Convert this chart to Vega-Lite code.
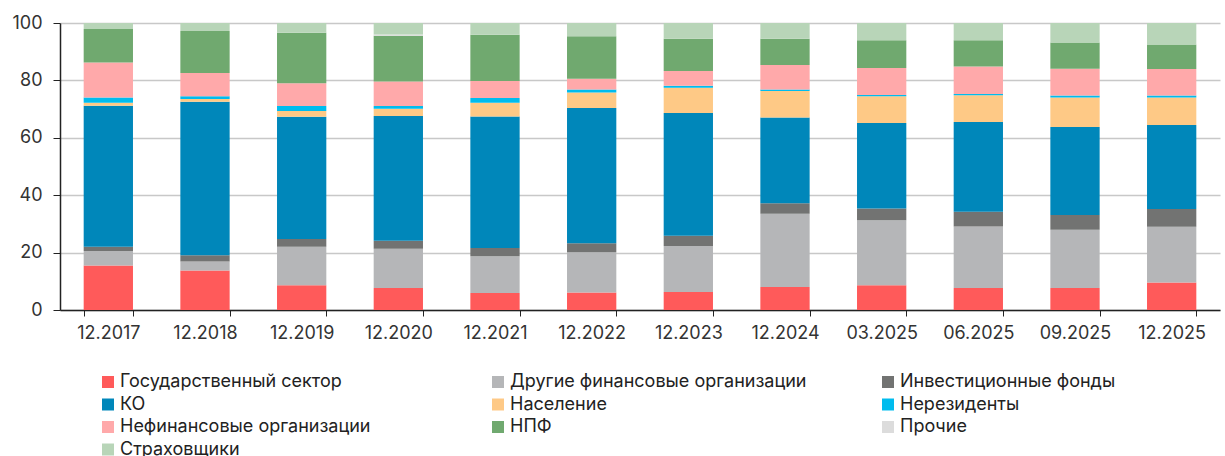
{
  "$schema": "https://vega.github.io/schema/vega-lite/v6.json",
  "width": 1160,
  "height": 287,
  "autosize": "none",
  "padding": {"left": 60, "top": 23, "right": 5, "bottom": 146},
  "background": "white",
  "config": {
    "font": "Inter",
    "view": {"stroke": null}
  },
  "datasets": {
    "src": [
      {"d":"12.2017","g":"Государственный сектор","v":15.5},{"d":"12.2017","g":"Другие финансовые организации","v":5.1},{"d":"12.2017","g":"Инвестиционные фонды","v":1.4},{"d":"12.2017","g":"КО","v":49.2},{"d":"12.2017","g":"Население","v":1.0},{"d":"12.2017","g":"Нерезиденты","v":1.8},{"d":"12.2017","g":"Нефинансовые организации","v":12.2},{"d":"12.2017","g":"НПФ","v":11.7},{"d":"12.2017","g":"Прочие","v":0.0},{"d":"12.2017","g":"Страховщики","v":2.1},
      {"d":"12.2018","g":"Государственный сектор","v":13.8},{"d":"12.2018","g":"Другие финансовые организации","v":3.1},{"d":"12.2018","g":"Инвестиционные фонды","v":2.2},{"d":"12.2018","g":"КО","v":53.5},{"d":"12.2018","g":"Население","v":0.9},{"d":"12.2018","g":"Нерезиденты","v":1.0},{"d":"12.2018","g":"Нефинансовые организации","v":8.1},{"d":"12.2018","g":"НПФ","v":14.6},{"d":"12.2018","g":"Прочие","v":0.0},{"d":"12.2018","g":"Страховщики","v":2.8},
      {"d":"12.2019","g":"Государственный сектор","v":8.6},{"d":"12.2019","g":"Другие финансовые организации","v":13.4},{"d":"12.2019","g":"Инвестиционные фонды","v":2.7},{"d":"12.2019","g":"КО","v":42.6},{"d":"12.2019","g":"Население","v":2.0},{"d":"12.2019","g":"Нерезиденты","v":1.8},{"d":"12.2019","g":"Нефинансовые организации","v":7.9},{"d":"12.2019","g":"НПФ","v":17.6},{"d":"12.2019","g":"Прочие","v":0.0},{"d":"12.2019","g":"Страховщики","v":3.4},
      {"d":"12.2020","g":"Государственный сектор","v":7.7},{"d":"12.2020","g":"Другие финансовые организации","v":13.6},{"d":"12.2020","g":"Инвестиционные фонды","v":2.8},{"d":"12.2020","g":"КО","v":43.5},{"d":"12.2020","g":"Население","v":2.5},{"d":"12.2020","g":"Нерезиденты","v":1.0},{"d":"12.2020","g":"Нефинансовые организации","v":8.5},{"d":"12.2020","g":"НПФ","v":16.0},{"d":"12.2020","g":"Прочие","v":0.4},{"d":"12.2020","g":"Страховщики","v":4.0},
      {"d":"12.2021","g":"Государственный сектор","v":5.9},{"d":"12.2021","g":"Другие финансовые организации","v":12.8},{"d":"12.2021","g":"Инвестиционные фонды","v":2.9},{"d":"12.2021","g":"КО","v":45.8},{"d":"12.2021","g":"Население","v":4.8},{"d":"12.2021","g":"Нерезиденты","v":1.7},{"d":"12.2021","g":"Нефинансовые организации","v":5.9},{"d":"12.2021","g":"НПФ","v":16.1},{"d":"12.2021","g":"Прочие","v":0.0},{"d":"12.2021","g":"Страховщики","v":4.1},
      {"d":"12.2022","g":"Государственный сектор","v":6.1},{"d":"12.2022","g":"Другие финансовые организации","v":14.0},{"d":"12.2022","g":"Инвестиционные фонды","v":3.2},{"d":"12.2022","g":"КО","v":47.1},{"d":"12.2022","g":"Население","v":5.4},{"d":"12.2022","g":"Нерезиденты","v":1.0},{"d":"12.2022","g":"Нефинансовые организации","v":3.8},{"d":"12.2022","g":"НПФ","v":14.8},{"d":"12.2022","g":"Прочие","v":0.0},{"d":"12.2022","g":"Страховщики","v":4.6},
      {"d":"12.2023","g":"Государственный сектор","v":6.3},{"d":"12.2023","g":"Другие финансовые организации","v":16.0},{"d":"12.2023","g":"Инвестиционные фонды","v":3.6},{"d":"12.2023","g":"КО","v":42.7},{"d":"12.2023","g":"Население","v":8.8},{"d":"12.2023","g":"Нерезиденты","v":0.7},{"d":"12.2023","g":"Нефинансовые организации","v":5.2},{"d":"12.2023","g":"НПФ","v":11.2},{"d":"12.2023","g":"Прочие","v":0.0},{"d":"12.2023","g":"Страховщики","v":5.5},
      {"d":"12.2024","g":"Государственный сектор","v":8.0},{"d":"12.2024","g":"Другие финансовые организации","v":25.5},{"d":"12.2024","g":"Инвестиционные фонды","v":3.7},{"d":"12.2024","g":"КО","v":29.9},{"d":"12.2024","g":"Население","v":9.2},{"d":"12.2024","g":"Нерезиденты","v":0.5},{"d":"12.2024","g":"Нефинансовые организации","v":8.6},{"d":"12.2024","g":"НПФ","v":9.1},{"d":"12.2024","g":"Прочие","v":0.0},{"d":"12.2024","g":"Страховщики","v":5.5},
      {"d":"03.2025","g":"Государственный сектор","v":8.6},{"d":"03.2025","g":"Другие финансовые организации","v":22.7},{"d":"03.2025","g":"Инвестиционные фонды","v":4.1},{"d":"03.2025","g":"КО","v":29.8},{"d":"03.2025","g":"Население","v":9.3},{"d":"03.2025","g":"Нерезиденты","v":0.4},{"d":"03.2025","g":"Нефинансовые организации","v":9.4},{"d":"03.2025","g":"НПФ","v":9.7},{"d":"03.2025","g":"Прочие","v":0.0},{"d":"03.2025","g":"Страховщики","v":6.0},
      {"d":"06.2025","g":"Государственный сектор","v":7.7},{"d":"06.2025","g":"Другие финансовые организации","v":21.4},{"d":"06.2025","g":"Инвестиционные фонды","v":5.1},{"d":"06.2025","g":"КО","v":31.3},{"d":"06.2025","g":"Население","v":9.3},{"d":"06.2025","g":"Нерезиденты","v":0.5},{"d":"06.2025","g":"Нефинансовые организации","v":9.5},{"d":"06.2025","g":"НПФ","v":9.2},{"d":"06.2025","g":"Прочие","v":0.0},{"d":"06.2025","g":"Страховщики","v":6.0},
      {"d":"09.2025","g":"Государственный сектор","v":7.7},{"d":"09.2025","g":"Другие финансовые организации","v":20.3},{"d":"09.2025","g":"Инвестиционные фонды","v":5.1},{"d":"09.2025","g":"КО","v":30.7},{"d":"09.2025","g":"Население","v":10.2},{"d":"09.2025","g":"Нерезиденты","v":0.7},{"d":"09.2025","g":"Нефинансовые организации","v":9.4},{"d":"09.2025","g":"НПФ","v":9.1},{"d":"09.2025","g":"Прочие","v":0.0},{"d":"09.2025","g":"Страховщики","v":6.8},
      {"d":"12.2025","g":"Государственный сектор","v":9.6},{"d":"12.2025","g":"Другие финансовые организации","v":19.4},{"d":"12.2025","g":"Инвестиционные фонды","v":6.2},{"d":"12.2025","g":"КО","v":29.3},{"d":"12.2025","g":"Население","v":9.5},{"d":"12.2025","g":"Нерезиденты","v":0.7},{"d":"12.2025","g":"Нефинансовые организации","v":9.3},{"d":"12.2025","g":"НПФ","v":8.5},{"d":"12.2025","g":"Прочие","v":0.0},{"d":"12.2025","g":"Страховщики","v":7.5}
    ]
  },
  "data": {"name": "src"},
  "transform": [
    {"calculate": "indexof(['Государственный сектор','Другие финансовые организации','Инвестиционные фонды','КО','Население','Нерезиденты','Нефинансовые организации','НПФ','Прочие','Страховщики'], datum.g)", "as": "ord"}
  ],
  "mark": {"type": "bar"},
  "encoding": {
    "x": {
      "field": "d", "type": "nominal", "sort": null, "title": null,
      "scale": {"paddingInner": 0.49, "paddingOuter": 0.245},
      "axis": {
        "labelAngle": 0, "labelFontSize": 18, "labelColor": "#333333", "labelPadding": 8,
        "tickBand": "extent", "tickColor": "#222222", "tickSize": 6, "domainColor": "#222222", "domainWidth": 1.5,
        "grid": false
      }
    },
    "y": {
      "field": "v", "type": "quantitative", "stack": "zero", "title": null,
      "scale": {"domain": [0, 100], "nice": false},
      "axis": {
        "values": [0, 20, 40, 60, 80, 100], "labelFontSize": 18, "labelColor": "#333333", "labelPadding": 11,
        "tickColor": "#222222", "tickSize": 7, "domainColor": "#222222", "domainWidth": 1.5,
        "gridColor": "#c8c8c8", "gridWidth": 1.5
      }
    },
    "order": {"field": "ord", "type": "quantitative", "sort": "ascending"},
    "color": {
      "field": "g", "type": "nominal",
      "scale": {
        "domain": ["Государственный сектор","Другие финансовые организации","Инвестиционные фонды","КО","Население","Нерезиденты","Нефинансовые организации","НПФ","Прочие","Страховщики"],
        "range": ["#ff5a5a","#b5b6b8","#727372","#0087ba","#fec986","#00bcee","#ffa9aa","#70a96f","#dcdcdc","#b8d5b8"]
      },
      "legend": {
        "title": null, "orient": "none", "legendX": 39, "legendY": 350, "columns": 3, "direction": "horizontal",
        "gridAlign": "all", "columnPadding": 72, "rowPadding": 4.5,
        "symbolType": "square", "symbolSize": 144, "symbolStrokeWidth": 0,
        "labelFontSize": 18, "labelColor": "#222222", "labelLimit": 400, "labelOffset": 3
      }
    }
  }
}
